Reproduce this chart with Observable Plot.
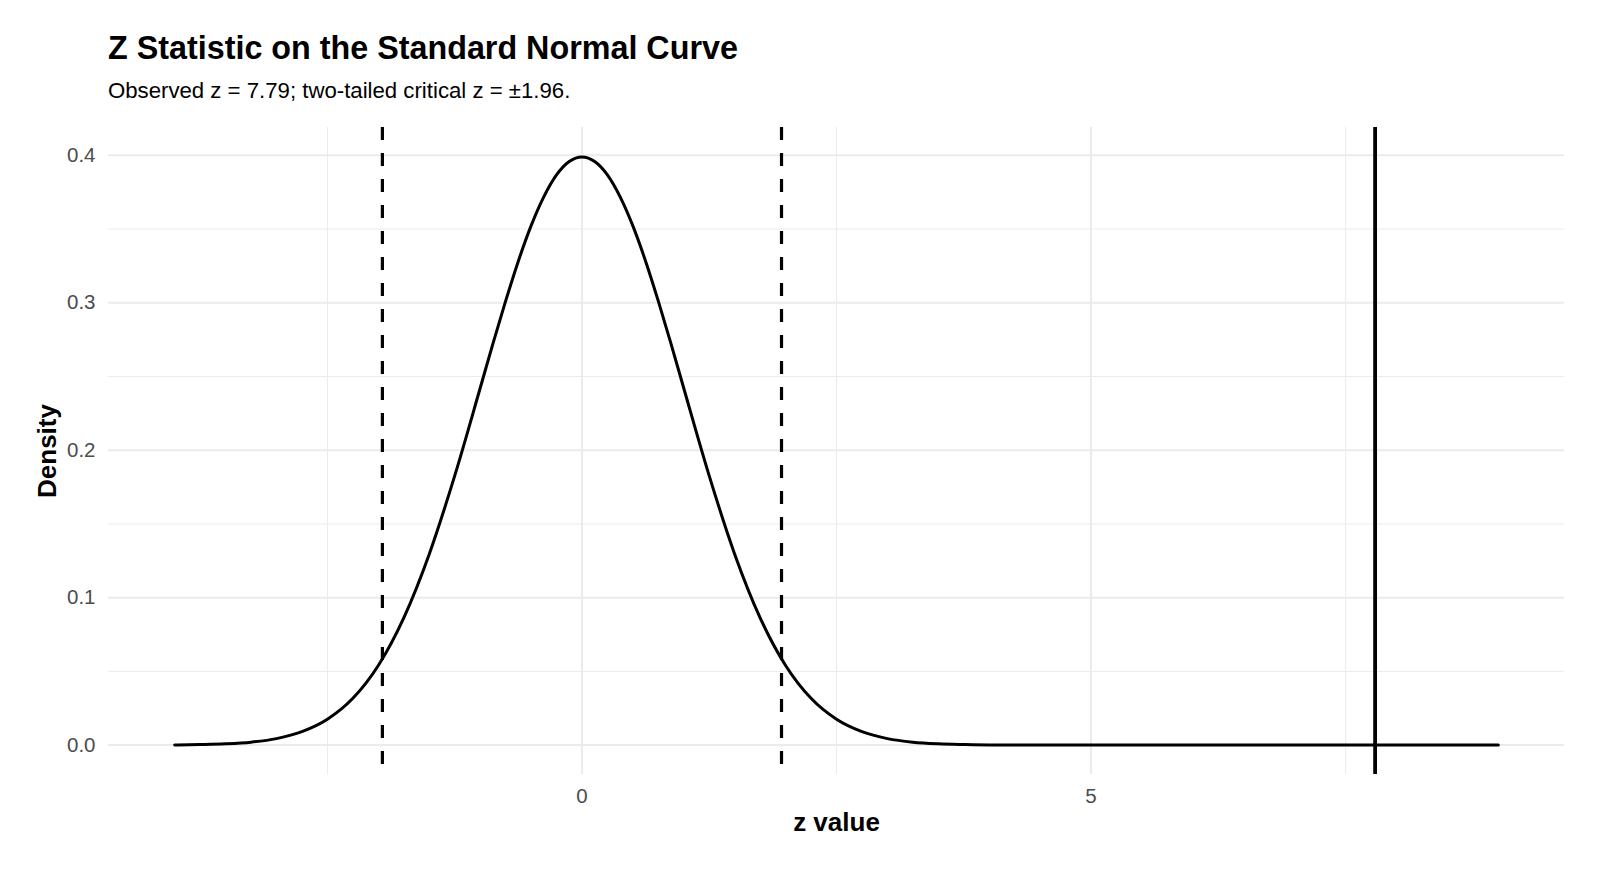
<!DOCTYPE html>
<html><head><meta charset="utf-8">
<script src="https://cdn.jsdelivr.net/npm/d3@7"></script>
<script src="https://cdn.jsdelivr.net/npm/@observablehq/plot@0.6"></script>
<style>
html,body{margin:0;padding:0;background:#fff;overflow:hidden;}
#wrap{position:relative;width:1600px;height:873px;font-family:"Liberation Sans",Arial,Helvetica,sans-serif;}
#title{position:absolute;left:108px;top:32px;font-size:32.3px;font-weight:bold;line-height:1;color:#000;white-space:nowrap;}
#subtitle{position:absolute;left:108px;top:80px;font-size:22.2px;line-height:1;color:#000;white-space:nowrap;}
#chart{position:absolute;left:0;top:110px;}
</style></head><body>
<div id="wrap"><div id="title"></div><div id="subtitle"></div><div id="chart"></div></div>
<script>
const titleText = "Z Statistic on the Standard Normal Curve";
const subtitleText = "Observed z = 7.79; two-tailed critical z = ±1.96.";
const xLabel = "z value";
const yLabel = "Density";
const zValues = [-4, -3.75, -3.5, -3.25, -3, -2.75, -2.5, -2.25, -2, -1.75, -1.5, -1.25, -1, -0.875, -0.75, -0.625, -0.5, -0.375, -0.25, -0.125, 0,
  0.125, 0.25, 0.375, 0.5, 0.625, 0.75, 0.875, 1, 1.25, 1.5, 1.75, 2, 2.25, 2.5, 2.75, 3, 3.25, 3.5, 3.75, 4, 4.5, 5, 6, 7, 8, 9];
const densityValues = [0.0001, 0.0004, 0.0009, 0.0020, 0.0044, 0.0091, 0.0175, 0.0317, 0.0540, 0.0863, 0.1295, 0.1826, 0.2420, 0.2721, 0.3011, 0.3282, 0.3521, 0.3718, 0.3867, 0.3958, 0.3989,
  0.3958, 0.3867, 0.3718, 0.3521, 0.3282, 0.3011, 0.2721, 0.2420, 0.1826, 0.1295, 0.0863, 0.0540, 0.0317, 0.0175, 0.0091, 0.0044, 0.0020, 0.0009, 0.0004, 0.0001, 0.00002, 0, 0, 0, 0, 0];
const criticalZ = [-1.96, 1.96];
const observedZ = [7.79];
const xTicks = [0, 5];
const xMinor = [-2.5, 2.5, 7.5];
const yTicks = [0, 0.1, 0.2, 0.3, 0.4];
const yMinor = [0.05, 0.15, 0.25, 0.35];

const curve = zValues.map((z, i) => ({z, d: densityValues[i]}));
document.getElementById("title").textContent = titleText;
document.getElementById("subtitle").textContent = subtitleText;

const grid = "#ebebeb";
const chart = Plot.plot({
  width: 1600,
  height: 763,
  marginLeft: 108,
  marginRight: 36,
  marginTop: 17,
  marginBottom: 99,
  style: {fontFamily: "'Liberation Sans', Arial, Helvetica, sans-serif", background: "#fff"},
  x: {domain: [-4.65, 9.65]},
  y: {domain: [-0.01995, 0.41885]},
  marks: [
    Plot.ruleY(yMinor, {stroke: grid, strokeWidth: 1}),
    Plot.ruleX(xMinor, {stroke: grid, strokeWidth: 1}),
    Plot.ruleY(yTicks, {stroke: grid, strokeWidth: 2}),
    Plot.ruleX(xTicks, {stroke: grid, strokeWidth: 2}),
    Plot.axisX(xTicks, {tickSize: 0, tickPadding: 14, fontSize: 20.5, color: "#4d4d4d", label: null, tickFormat: d => String(d)}),
    Plot.axisY(yTicks, {tickSize: 0, tickPadding: 13, fontSize: 20.5, color: "#4d4d4d", label: null, tickFormat: d3.format(".1f")}),
    Plot.line(curve, {x: "z", y: "d", stroke: "#000", strokeWidth: 3, curve: "monotone-x"}),
    Plot.ruleX(criticalZ, {stroke: "#000", strokeWidth: 3.2, strokeDasharray: "13,13"}),
    Plot.ruleX(observedZ, {stroke: "#000", strokeWidth: 3.8}),
    Plot.text([xLabel], {text: d => d, frameAnchor: "bottom", lineAnchor: "middle", textAnchor: "middle", dy: 48, fontSize: 26, fontWeight: "bold", fill: "#000"}),
    Plot.text([yLabel], {text: d => d, frameAnchor: "left", lineAnchor: "middle", textAnchor: "middle", dx: -61, rotate: -90, fontSize: 26, fontWeight: "bold", fill: "#000"})
  ]
});
document.getElementById("chart").appendChild(chart);
</script>
</body></html>
